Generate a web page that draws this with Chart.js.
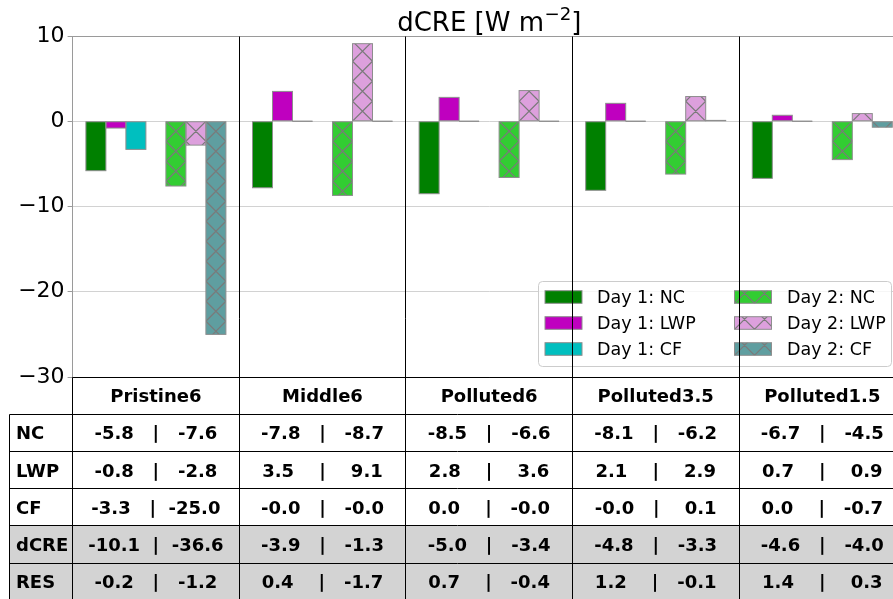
<!DOCTYPE html>
<html>
<head>
<meta charset="utf-8">
<script src="https://cdn.jsdelivr.net/npm/chart.js@4.4.1/dist/chart.umd.min.js"></script>
<style>
  html, body { margin: 0; padding: 0; overflow: hidden; background: #fff; }
  #wrap { width: 910px; height: 599px; }
</style>
</head>
<body>
<div id="wrap"><canvas id="c" width="910" height="599"></canvas></div>
<script>
// ---- data -------------------------------------------------------------
const groups   = ['Pristine6', 'Middle6', 'Polluted6', 'Polluted3.5', 'Polluted1.5'];
const day1NC   = [-5.8, -7.8, -8.5, -8.1, -6.7];
const day2NC   = [-7.6, -8.7, -6.6, -6.2, -4.5];
const day1LWP  = [-0.8,  3.5,  2.8,  2.1,  0.7];
const day2LWP  = [-2.8,  9.1,  3.6,  2.9,  0.9];
const day1CF   = [-3.3, -0.0,  0.0, -0.0,  0.0];
const day2CF   = [-25.0, -0.0, -0.0, 0.1, -0.7];
const day1dCRE = [-10.1, -3.9, -5.0, -4.8, -4.6];
const day2dCRE = [-36.6, -1.3, -3.4, -3.3, -4.0];
const day1RES  = [-0.2,  0.4,  0.7,  1.2,  1.4];
const day2RES  = [-1.2, -1.7, -0.4, -0.1,  0.3];
const yTicks   = [10, 0, -10, -20, -30];
const rowLabels = ['NC', 'LWP', 'CF', 'dCRE', 'RES'];

// ---- styling ----------------------------------------------------------
const FONT = '"DejaVu Sans", "Liberation Sans", sans-serif';
const EDGE = '#8e8e8e';
const HATCH = '#7a7a7a';
const AXIS_LEFT = 72.6;
const AXIS_RIGHT = 905.6;
const PLOT_TOP = 36;
const PLOT_BOTTOM = 377;
const ROW_H = 37.2;

const series = [
  { label: 'Day 1: NC',  data: day1NC,  color: '#008000', hatched: false },
  { label: 'Day 1: LWP', data: day1LWP, color: '#bf00bf', hatched: false },
  { label: 'Day 1: CF',  data: day1CF,  color: '#00bfbf', hatched: false },
  { label: 'Day 2: NC',  data: day2NC,  color: '#32cd32', hatched: true },
  { label: 'Day 2: LWP', data: day2LWP, color: '#dda0dd', hatched: true },
  { label: 'Day 2: CF',  data: day2CF,  color: '#5f9ea0', hatched: true }
];

function barDataset(s) {
  return {
    label: s.label, data: s.data, backgroundColor: s.color,
    borderWidth: 0, hatched: s.hatched, isSeries: true
  };
}
// an empty slot separates the Day 1 and Day 2 bars inside each group
const gapDataset = { label: '', data: groups.map(() => null), backgroundColor: 'rgba(0,0,0,0)', isSeries: false };

const datasets = [
  barDataset(series[0]), barDataset(series[1]), barDataset(series[2]),
  gapDataset,
  barDataset(series[3]), barDataset(series[4]), barDataset(series[5])
];

// ---- helpers ----------------------------------------------------------
function fmt(v) {
  const neg = v < 0 || Object.is(v, -0);
  return (neg ? '-' : '') + Math.abs(v).toFixed(1);
}
function cellText(a, b) {
  return fmt(a).padEnd(5, ' ') + '  |  ' + fmt(b).padStart(5, ' ');
}
function px(v) { return Math.round(v - 0.5) + 0.5; }

// diagonal cross hatch clipped to a rectangle, anchored at (ax, ay)
function drawHatch(ctx, x0, y0, x1, y1, ax, ay, p) {
  ctx.save();
  ctx.beginPath();
  ctx.rect(x0, y0, x1 - x0, y1 - y0);
  ctx.clip();
  ctx.strokeStyle = HATCH;
  ctx.lineWidth = 1.15;
  ctx.beginPath();
  const dmin = x0 - ax, dmax = x1 - ax;
  let kA = Math.floor((y0 - ay - dmax) / p) - 1, kB = Math.ceil((y1 - ay - dmin) / p) + 1;
  for (let k = kA; k <= kB; k++) {
    ctx.moveTo(x0, ay + dmin + k * p);
    ctx.lineTo(x1, ay + dmax + k * p);
  }
  kA = Math.floor((y0 - ay + dmin) / p) - 1; kB = Math.ceil((y1 - ay + dmax) / p) + 1;
  for (let k = kA; k <= kB; k++) {
    ctx.moveTo(x0, ay - dmin + k * p);
    ctx.lineTo(x1, ay - dmax + k * p);
  }
  ctx.stroke();
  ctx.restore();
}

// ---- plugins ----------------------------------------------------------
const barDecor = {
  id: 'barDecor',
  afterDatasetsDraw(chart) {
    const ctx = chart.ctx;
    const zeroY = chart.scales.y.getPixelForValue(0);
    chart.data.datasets.forEach((ds, di) => {
      if (!ds.isSeries) return;
      const meta = chart.getDatasetMeta(di);
      meta.data.forEach((bar, i) => {
        if (ds.data[i] === null) return;
        const { x, y, base, width } = bar.getProps(['x', 'y', 'base', 'width'], true);
        const x0 = x - width / 2, x1 = x + width / 2;
        const y0 = Math.min(y, base), y1 = Math.max(y, base);
        if (ds.hatched && y1 - y0 > 0.5) drawHatch(ctx, x0, y0, x1, y1, x0, zeroY, width);
        ctx.save();
        ctx.strokeStyle = EDGE;
        ctx.lineWidth = 1;
        ctx.strokeRect(x0, y0, x1 - x0, y1 - y0);
        ctx.restore();
      });
    });
  }
};

const overlay = {
  id: 'overlay',
  afterDraw(chart) {
    const ctx = chart.ctx;
    const area = chart.chartArea;
    const xs = chart.scales.x;
    const H = chart.height;

    // top spine
    ctx.save();
    ctx.strokeStyle = '#9a9a9a';
    ctx.lineWidth = 1;
    ctx.beginPath();
    ctx.moveTo(area.left, px(area.top));
    ctx.lineTo(area.right, px(area.top));
    ctx.stroke();
    ctx.restore();

    // legend, two columns
    const lg = { x: 538.5, y: 281.5, w: 353, h: 85 };
    ctx.save();
    ctx.beginPath();
    ctx.roundRect(lg.x, lg.y, lg.w, lg.h, 4);
    ctx.fillStyle = 'rgba(255,255,255,0.8)';
    ctx.fill();
    ctx.strokeStyle = '#cccccc';
    ctx.lineWidth = 1;
    ctx.stroke();
    const colPatch = [545, 734.5], colText = [597, 787];
    const rowMid = [297, 323, 349];
    const pw = 37, ph = 12.6;
    ctx.font = `17.5px ${FONT}`;
    ctx.fillStyle = '#000';
    ctx.textAlign = 'left';
    ctx.textBaseline = 'alphabetic';
    series.forEach((s, i) => {
      const c = Math.floor(i / 3), r = i % 3;
      const x0 = colPatch[c], y0 = rowMid[r] - ph / 2;
      ctx.fillStyle = s.color;
      ctx.fillRect(x0, y0, pw, ph);
      if (s.hatched) drawHatch(ctx, x0, y0, x0 + pw, y0 + ph, x0, y0 + ph, 20);
      ctx.strokeStyle = EDGE;
      ctx.lineWidth = 1;
      ctx.strokeRect(x0, y0, pw, ph);
      ctx.fillStyle = '#000';
      ctx.fillText(s.label, colText[c], rowMid[r] + 0.3645 * 17.5);
    });
    ctx.restore();

    // table below the plot
    const top = area.bottom;
    const left = 9.5;
    const right = area.right;
    const colEdges = [area.left];
    for (let i = 0; i < groups.length - 1; i++) {
      colEdges.push((xs.getPixelForValue(i) + xs.getPixelForValue(i + 1)) / 2);
    }
    colEdges.push(right);
    const rowY = k => top + k * ROW_H;

    ctx.save();
    ctx.fillStyle = '#d3d3d3';
    ctx.fillRect(left, rowY(4), right - left, ROW_H * 2 + 4);

    ctx.strokeStyle = '#000';
    ctx.lineWidth = 1;
    ctx.beginPath();
    ctx.moveTo(px(area.left), px(rowY(0)));
    ctx.lineTo(right, px(rowY(0)));
    for (let k = 1; k <= 6; k++) {
      ctx.moveTo(px(left), px(rowY(k)));
      ctx.lineTo(right, px(rowY(k)));
    }
    ctx.moveTo(px(left), px(rowY(1)));
    ctx.lineTo(px(left), H + 2);
    ctx.moveTo(px(area.left), px(rowY(0)));
    ctx.lineTo(px(area.left), H + 2);
    ctx.stroke();

    ctx.fillStyle = '#000';
    ctx.font = `bold 18px ${FONT}`;
    const capOff = 0.3645 * 18;
    ctx.textAlign = 'center';
    groups.forEach((g, i) => {
      const cx = (colEdges[i] + colEdges[i + 1]) / 2;
      ctx.fillText(g, cx, rowY(0) + ROW_H / 2 + capOff);
    });
    const pairs = [
      [day1NC, day2NC], [day1LWP, day2LWP], [day1CF, day2CF],
      [day1dCRE, day2dCRE], [day1RES, day2RES]
    ];
    pairs.forEach((pr, r) => {
      const cy = rowY(r + 1) + ROW_H / 2 + capOff;
      ctx.textAlign = 'left';
      ctx.fillText(rowLabels[r], 16, cy);
      ctx.textAlign = 'center';
      groups.forEach((g, i) => {
        const cx = (colEdges[i] + colEdges[i + 1]) / 2;
        ctx.fillText(cellText(pr[0][i], pr[1][i]), cx, cy);
      });
    });
    ctx.restore();

    // group separators, through plot and table
    ctx.save();
    ctx.strokeStyle = '#000';
    ctx.lineWidth = 1;
    ctx.beginPath();
    for (let i = 1; i < colEdges.length; i++) {
      ctx.moveTo(px(colEdges[i]), px(area.top));
      ctx.lineTo(px(colEdges[i]), H + 2);
    }
    ctx.stroke();
    ctx.restore();

    // title with superscript unit
    const tMain = 'dCRE [W m', tSup = '\u22122', tEnd = ']';
    const fs = 26, fsSup = fs * 0.7;
    ctx.save();
    ctx.fillStyle = '#000';
    ctx.textAlign = 'left';
    ctx.textBaseline = 'alphabetic';
    ctx.font = `${fs}px ${FONT}`;
    const w1 = ctx.measureText(tMain).width, w3 = ctx.measureText(tEnd).width;
    ctx.font = `${fsSup}px ${FONT}`;
    const w2 = ctx.measureText(tSup).width;
    const cx = (area.left + area.right) / 2;
    let x = cx - (w1 + w2 + w3) / 2;
    const baseY = 30.5;
    ctx.font = `${fs}px ${FONT}`;
    ctx.fillText(tMain, x, baseY);
    x += w1 + 0.5;
    ctx.font = `${fsSup}px ${FONT}`;
    ctx.fillText(tSup, x, baseY - 0.4 * fs);
    x += w2;
    ctx.font = `${fs}px ${FONT}`;
    ctx.fillText(tEnd, x, baseY);
    ctx.restore();
  }
};

// ---- chart ------------------------------------------------------------
new Chart(document.getElementById('c'), {
  type: 'bar',
  data: { labels: groups, datasets: datasets },
  options: {
    responsive: false,
    animation: false,
    devicePixelRatio: 1,
    layout: { padding: { left: 0, right: 910 - AXIS_RIGHT, top: PLOT_TOP, bottom: 599 - PLOT_BOTTOM } },
    datasets: { bar: { barPercentage: 1.0, categoryPercentage: 140 / 166.6 } },
    plugins: { legend: { display: false }, title: { display: false }, tooltip: { enabled: false } },
    scales: {
      x: { type: 'category', display: false, offset: true, grid: { display: false } },
      y: {
        min: -30, max: 10,
        afterFit: s => { s.width = AXIS_LEFT; },
        afterBuildTicks: s => { s.ticks = yTicks.map(v => ({ value: v })); },
        ticks: {
          color: '#000', padding: 3,
          font: { family: FONT, size: 22 },
          callback: v => (v < 0 ? '\u2212' + Math.abs(v) : String(v))
        },
        grid: { color: '#d2d2d2', lineWidth: 1, tickColor: '#9a9a9a', tickLength: 5, drawTicks: true },
        border: { color: '#9a9a9a', width: 1 }
      }
    }
  },
  plugins: [barDecor, overlay]
});
</script>
</body>
</html>
